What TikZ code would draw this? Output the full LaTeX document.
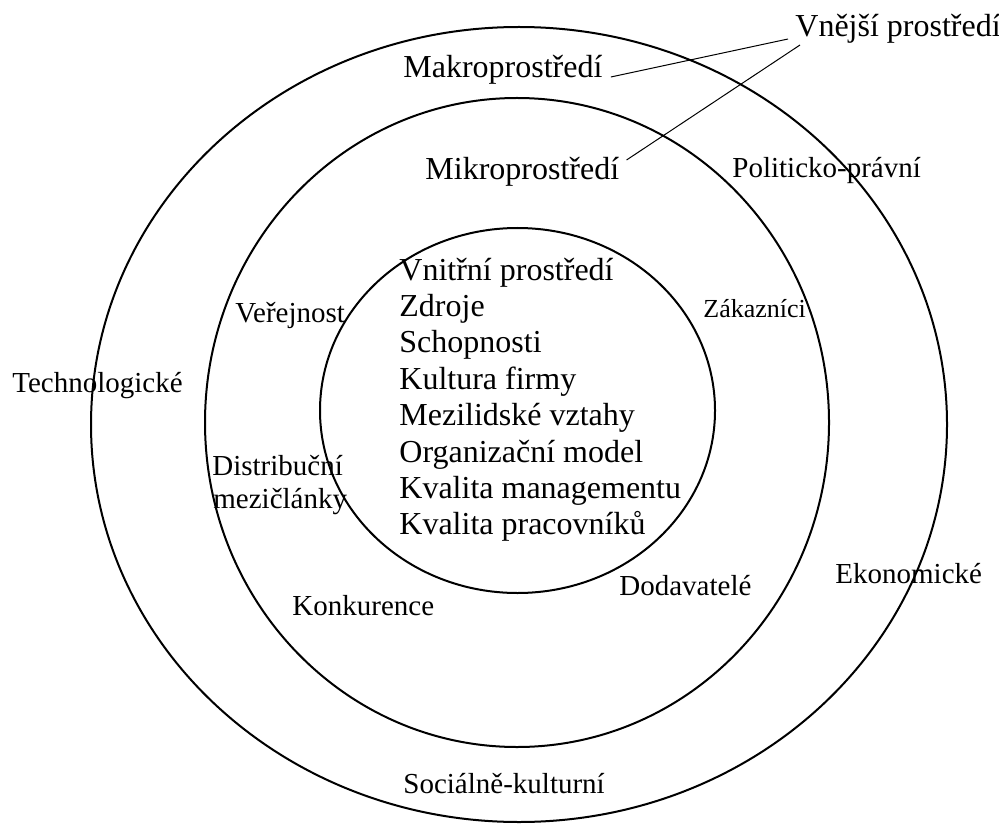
\documentclass[tikz,border=0pt]{standalone}
\usepackage{fontspec}
\setmainfont{Liberation Serif}
\usetikzlibrary{calc}
\tikzset{
  kruh/.style={draw, line width=1pt},
  velky/.style={font=\fontsize{16}{18}\selectfont, inner sep=0pt, anchor=base west},
  popis/.style={font=\fontsize{14.5}{16.5}\selectfont, inner sep=0pt, anchor=base west},
  odkaz/.style={line width=0.5pt}
}
\begin{document}
\begin{tikzpicture}[x=0.5pt,y=-0.5pt]
\useasboundingbox (0,0) rectangle (999,823);
% tri prostredi
\draw[kruh] (519,424.5) ellipse [x radius=428, y radius=397.5];
\draw[kruh] (517,422.5) ellipse [x radius=312, y radius=324.5];
\draw[kruh] (517.5,410.5) ellipse [x radius=197.5, y radius=182.5];

\node[velky] (vnejsi) at (795,37) {Vnější prostředí};
\node[velky] (makro) at (403,78) {Makroprostředí};
\node[velky] (mikro) at (425,180) {Mikroprostředí};

\node[popis] (polit) at (732,178) {Politicko-právní};
\node[popis] (techno) at (12,392) {Technologické};
\node[popis] (ekon) at (835,583) {Ekonomické};
\node[popis] (social) at (403,793) {Sociálně-kulturní};

\node[popis] (verej) at (235,322) {Veřejnost};
\node[popis,font=\fontsize{13}{15}\selectfont] (zakaz) at (703,317) {Zákazníci};
\node[popis] (distr) at (212,475) {Distribuční};
\node[popis] (mezi) at (213,508) {mezičlánky};
\node[popis] (konk) at (292,615) {Konkurence};
\node[popis] (dodav) at (619,595) {Dodavatelé};

% vnitrni prostredi
\foreach \t [count=\i from 0] in {Vnitřní prostředí, Zdroje, Schopnosti, Kultura firmy,
    Mezilidské vztahy, Organizační model, Kvalita managementu, Kvalita pracovníků}
  \node[velky] (vn\i) at (399,280+36.4*\i) {\t};

\draw[odkaz] ($(makro.base east)+(8,-1)$) -- ($(vnejsi.base west)+(-7,2)$);
\draw[odkaz] ($(vnejsi.base west)+(5,8)$) -- ($(mikro.base east)+(7,-20)$);
\end{tikzpicture}
\end{document}
